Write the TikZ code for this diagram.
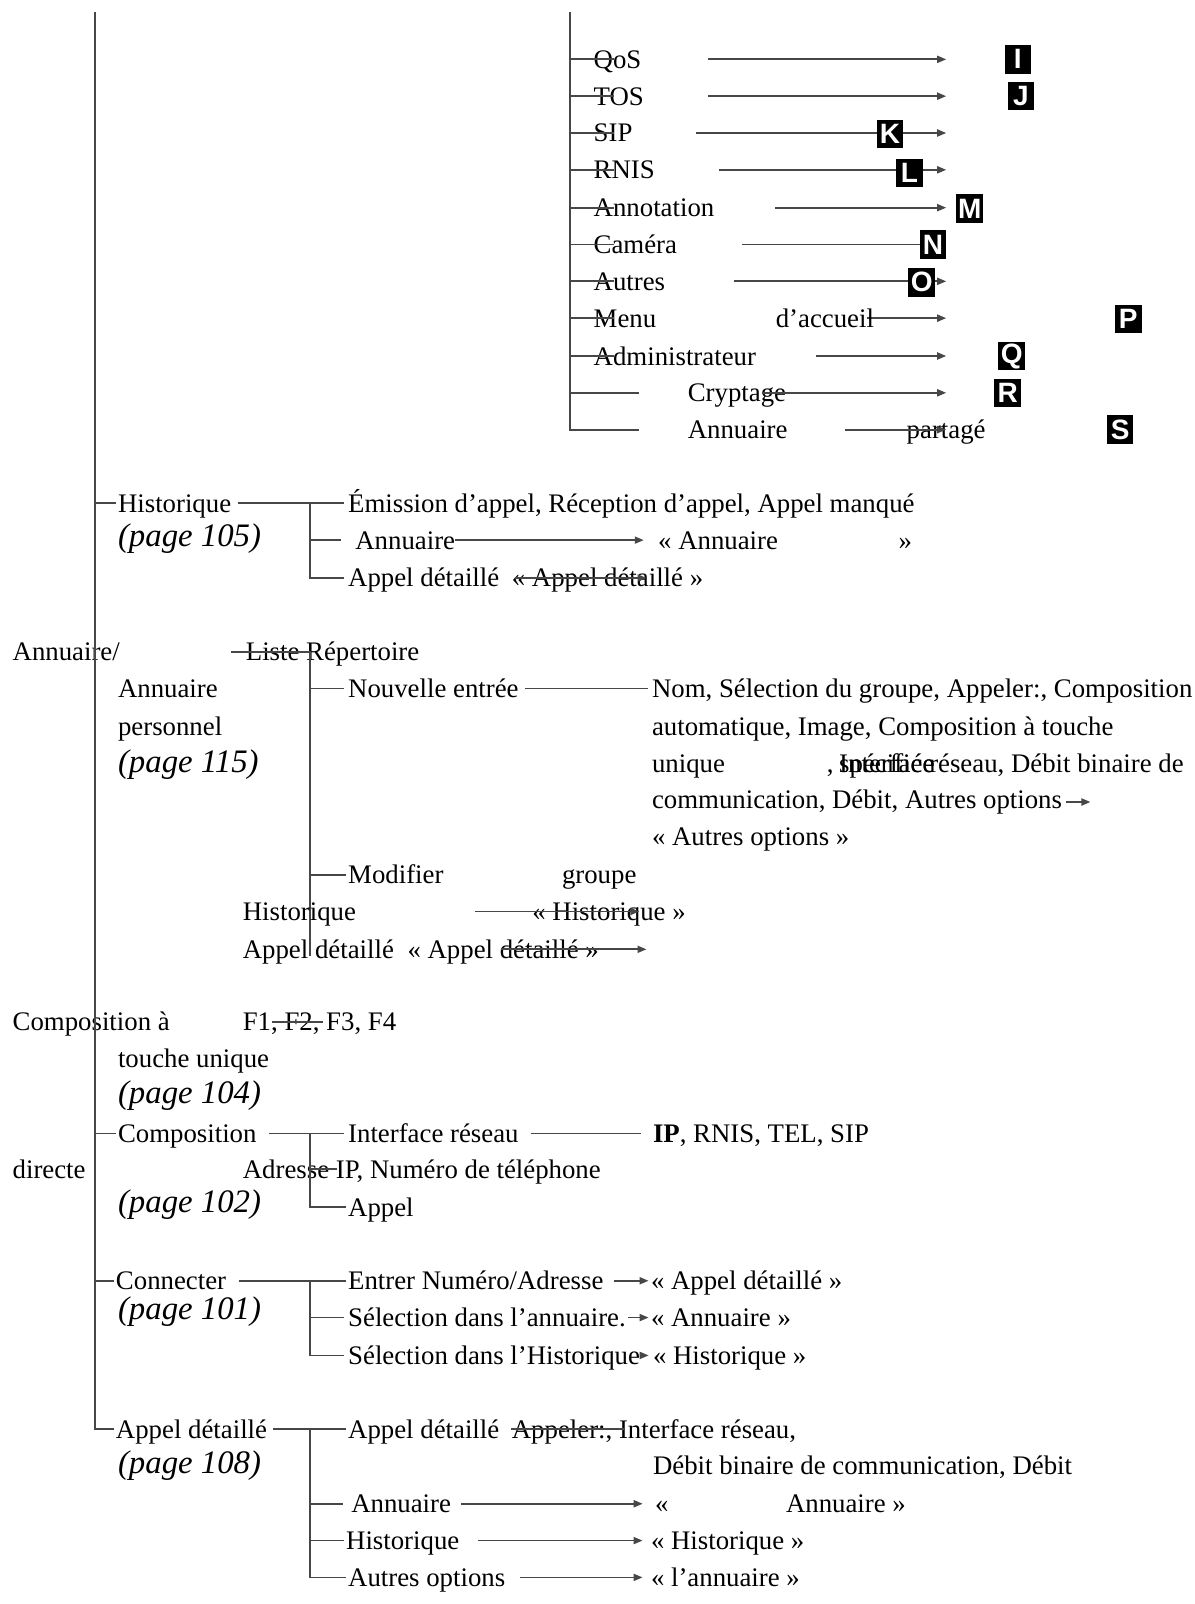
\documentclass[tikz,border=0pt]{standalone}
\usepackage{fontspec}
\setmainfont{Liberation Serif}
\setsansfont{Liberation Sans}
\usetikzlibrary{arrows.meta}
\begin{document}
\begin{tikzpicture}[x=0.51155pt,y=-0.51155pt,
  t/.style={anchor=west,inner sep=0pt,font=\fontsize{13.4}{16}\selectfont,text height=10.5pt,text depth=1.5pt},
  pg/.style={anchor=west,inner sep=0pt,font=\fontsize{16.4}{19}\selectfont\itshape,text height=12pt,text depth=1.5pt},
  lbox/.style={fill=black,text=white,inner sep=0pt,font=\sffamily\bfseries\fontsize{14}{14}\selectfont,minimum width=13.3pt,minimum height=14.3pt},
  ln/.style={draw=black!72,line width=0.9pt},
  arr/.style={ln,-{Triangle[length=4.5pt,width=3.5pt]}}]
\useasboundingbox (0,0) rectangle (1168,1568);

% spines
\coordinate (m0) at (93,12);
\coordinate (s0) at (557,12);
\coordinate (s1) at (625,420);

% ---------- top section ----------
\foreach \n/\y/\txt/\xs in {qos/58/QoS/692, tos/94/TOS/692, sip/130/SIP/680, rnis/166/RNIS/703, anno/203/Annotation/758, cam/239/Caméra/725, aut/275/Autres/718, menu/311/Menu/848, adm/348/Administrateur/798}
{
  \node[t] (\n) at (580,\y) {\txt};
  \draw[ln] (s0 |- \n.west) -- +(43,0);
  \coordinate (\n-a) at (\xs,\y);
  \coordinate (\n-b) at (925,\y);
  \draw[arr] (\n-a) -- (\n-b);
}
\node[t] (acc) at (758,311) {d’accueil};
\node[t] (cry) at (672,384) {Cryptage};
\coordinate (cry-t) at (625,384);
\draw[ln] (s0 |- cry.west) -- (cry-t);
\coordinate (cry-a) at (745,384);
\coordinate (cry-b) at (925,384);
\draw[arr] (cry-a) -- (cry-b);
\node[t] (apa) at (672,420) {Annuaire};
\node[t] (apb) at (886,420) {partagé};
\draw[ln] (s0) |- (s1);
\coordinate (apa-a) at (826,420);
\coordinate (apa-b) at (925,420);
\draw[arr] (apa-a) -- (apa-b);

\node[lbox] (bI) at (995,58) {I};
\node[lbox] (bJ) at (998,94) {J};
\node[lbox] (bK) at (870,131) {K};
\node[lbox] (bL) at (889,169) {L};
\node[lbox] (bM) at (948,204) {M};
\node[lbox] (bN) at (912,239) {N};
\node[lbox] (bO) at (901,276) {O};
\node[lbox] (bP) at (1103,312) {P};
\node[lbox] (bQ) at (989,348) {Q};
\node[lbox] (bR) at (985,384) {R};
\node[lbox] (bS) at (1095,420) {S};

% ---------- Historique ----------
\node[t] (hist) at (115,492) {Historique};
\node[pg] (histp) at (115,524) {(page 105)};
\coordinate (hv) at (303,492);
\node[t] (emis) at (340,492) {Émission d’appel, Réception d’appel, Appel manqué};
\node[t] (han) at (347,528) {Annuaire};
\node[t] (hanq) at (643,528) {« Annuaire};
\node[t] (hanr) at (878,528) {»};
\node[t] (hdet) at (340,565) {Appel détaillé};
\node[t] (hdetq) at (500,565) {« Appel détaillé »};
\draw[ln] (m0 |- hist.west) -- ([xshift=-1pt]hist.west);
\draw[ln] ([xshift=3pt]hist.east) -- (hv) -- ([xshift=-2pt]emis.west);
\draw[ln] (hv) |- ([xshift=-2pt]hdet.west);
\draw[ln] (hv |- han.west) -- +(30,0);
\draw[arr] (han.east) -- ([xshift=-7pt]hanq.west);
\coordinate (hda) at (503,565);
\coordinate (hdb) at (632,565);
\draw[arr] (hda) -- (hdb);

% ---------- Annuaire ----------
\node[t] (ann) at (12,637) {Annuaire/};
\node[t] (liste) at (240,637) {Liste Répertoire};
\coordinate (al) at (226,637);
\coordinate (av) at (303,637);
\coordinate (avb) at (303,935);
\draw[ln] (al) -- (av) -- (avb);
\node[t] (ap1) at (115,673) {Annuaire};
\node[t] (ap2) at (115,710) {personnel};
\node[pg] (app) at (115,745) {(page 115)};
\node[t] (ne) at (340,673) {Nouvelle entrée};
\draw[ln] (av |- ne.west) -- ([xshift=-2pt]ne.west);
\node[t] (nt1) at (637,673) {Nom, Sélection du groupe, Appeler:, Composition};
\draw[ln] ([xshift=3pt]ne.east) -- ([xshift=-2pt]nt1.west);
\node[t] (nt2) at (637,710) {automatique, Image, Composition à touche};
\node[t] (nt3) at (637,746) {unique};
\node[t] (nt3c) at (808,746) {,};
\node[t] (nt3i) at (820,746) {Interface};
\node[t] (nt3s) at (820,746) {spécifiée};
\node[t] (nt3r) at (908,746) {réseau, Débit binaire de};
\node[t] (nt4) at (637,782) {communication,};
\node[t] (nt4b) at (813,782) {Débit, Autres options};
\coordinate (nt4a) at (1042,784);
\coordinate (nt4e) at (1066,784);
\draw[arr] (nt4a) -- (nt4e);
\node[t] (nt5) at (637,818) {« Autres options »};
\node[t] (mod) at (340,855) {Modifier};
\draw[ln] (av |- mod.west) -- ([xshift=-1pt]mod.west);
\node[t] (grp) at (549,855) {groupe};
\node[t] (ahist) at (237,891) {Historique};
\node[t] (ahq) at (520,891) {« Historique »};
\coordinate (aha) at (464,891);
\coordinate (ahb) at (625,891);
\draw[arr] (aha) -- (ahb);
\node[t] (aad) at (237,928) {Appel détaillé};
\node[t] (aadq) at (398,928) {« Appel détaillé »};
\coordinate (ada) at (490,928);
\coordinate (adb) at (632,928);
\draw[arr] (ada) -- (adb);

% ---------- Composition a touche unique ----------
\node[t] (cu1) at (12,999) {Composition à};
\node[t] (cf) at (237,999) {F1, F2, F3, F4};
\coordinate (cfa) at (266,999);
\coordinate (cfb) at (316,999);
\draw[ln] (cfa) -- (cfb);
\node[t] (cu2) at (115,1035) {touche unique};
\node[pg] (cup) at (115,1068) {(page 104)};

% ---------- Composition directe ----------
\node[t] (cd) at (115,1108) {Composition};
\draw[ln] (m0 |- cd.west) -- ([xshift=-1pt]cd.west);
\coordinate (cv) at (303,1108);
\node[t] (ir) at (340,1108) {Interface réseau};
\draw[ln] ([xshift=6pt]cd.east) -- (cv) -- ([xshift=-2pt]ir.west);
\node[t] (ips) at (638,1108) {\textbf{IP}, RNIS, TEL, SIP};
\draw[ln] ([xshift=6pt]ir.east) -- ([xshift=-6pt]ips.west);
\node[t] (dir) at (12,1143) {directe};
\node[t] (adr) at (237,1143) {Adresse IP, Numéro de téléphone};
\draw[ln] (cv |- adr.west) -- +(26,0);
\node[pg] (cdp) at (115,1175) {(page 102)};
\node[t] (capp) at (340,1180) {Appel};
\draw[ln] (cv) |- ([xshift=-1pt]capp.west);

% ---------- Connecter ----------
\node[t] (con) at (113,1252) {Connecter};
\draw[ln] (m0 |- con.west) -- ([xshift=-1pt]con.west);
\coordinate (kv) at (303,1252);
\node[t] (enum) at (340,1252) {Entrer Numéro/Adresse};
\draw[ln] ([xshift=6pt]con.east) -- (kv) -- ([xshift=-1pt]enum.west);
\node[t] (enq) at (636,1252) {« Appel détaillé »};
\draw[arr] ([xshift=5pt]enum.east) -- ([xshift=-1pt]enq.west);
\node[pg] (conp) at (115,1280) {(page 101)};
\node[t] (sela) at (340,1288) {Sélection dans l’annuaire.};
\node[t] (selaq) at (636,1288) {« Annuaire »};
\draw[ln] (kv |- sela.west) -- ([xshift=-2pt]sela.west);
\draw[arr] ([xshift=1pt]sela.east) -- ([xshift=-1pt]selaq.west);
\node[t] (selh) at (340,1325) {Sélection dans l'Historique};
\node[t] (selhq) at (638,1325) {« Historique »};
\draw[ln] (kv) |- ([xshift=-2pt]selh.west);
\draw[arr] ([xshift=1pt]selh.east) -- ([xshift=-2pt]selhq.west);

% ---------- Appel detaille ----------
\node[t] (adt) at (113,1397) {Appel détaillé};
\draw[ln] (m0) |- ([xshift=-1pt]adt.west);
\coordinate (dv) at (303,1397);
\node[t] (add) at (340,1397) {Appel détaillé};
\draw[ln] ([xshift=3pt]adt.east) -- (dv) -- ([xshift=-1pt]add.west);
\node[t] (appl) at (500,1397) {Appeler:, Interface réseau,};
\coordinate (apl-a) at (500,1397);
\coordinate (apl-b) at (610,1397);
\draw[ln] (apl-a) -- (apl-b);
\node[pg] (adp) at (115,1430) {(page 108)};
\node[t] (deb) at (638,1433) {Débit binaire de communication, Débit};
\node[t] (dan) at (343,1470) {Annuaire};
\node[t] (danq1) at (640,1470) {«};
\node[t] (danq2) at (768,1470) {Annuaire »};
\draw[ln] (dv |- dan.west) -- ([xshift=-4pt]dan.west);
\draw[arr] ([xshift=5pt]dan.east) -- ([xshift=-6pt]danq1.west);
\node[t] (dhi) at (338,1506) {Historique};
\node[t] (dhiq) at (636,1506) {« Historique »};
\draw[ln] (dv |- dhi.west) -- ([xshift=-1pt]dhi.west);
\draw[arr] ([xshift=9pt]dhi.east) -- ([xshift=-4pt]dhiq.west);
\node[t] (dao) at (340,1542) {Autres options};
\node[t] (daoq) at (636,1542) {« l'annuaire »};
\draw[ln] (dv) |- ([xshift=-1pt]dao.west);
\draw[arr] ([xshift=7pt]dao.east) -- ([xshift=-4pt]daoq.west);
\end{tikzpicture}
\end{document}
